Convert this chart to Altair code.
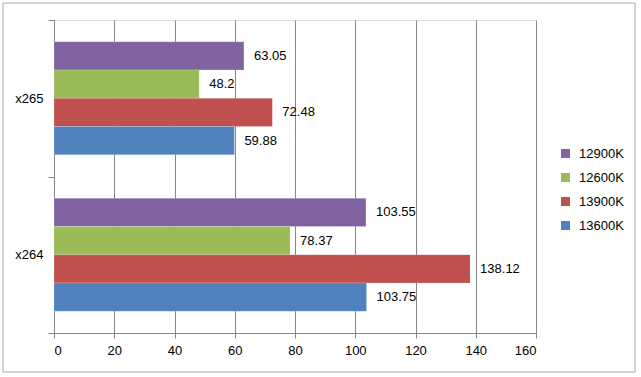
import altair as alt
import pandas as pd

categories = ["x265", "x264"]
series = ["12900K", "12600K", "13900K", "13600K"]
x265_vals = [63.05, 48.2, 72.48, 59.88]
x264_vals = [103.55, 78.37, 138.12, 103.75]
colors = ["#8064A2", "#9BBB59", "#C0504D", "#4F81BD"]
x_ticks = [0, 20, 40, 60, 80, 100, 120, 140, 160]

rows = []
for cat, vals in zip(categories, [x265_vals, x264_vals]):
    for s, v in zip(series, vals):
        rows.append({"codec": cat, "cpu": s, "value": v})
df = pd.DataFrame(rows)

FONT = "Liberation Sans"

base = alt.Chart(df).encode(
    y=alt.Y("codec:N", sort=categories,
            scale=alt.Scale(paddingInner=0, paddingOuter=0),
            axis=alt.Axis(title=None, tickBand="extent", grid=False,
                          domainColor="#868686", tickColor="#868686",
                          tickSize=6, labelPadding=5, labelFontSize=13,
                          labelFont=FONT, labelColor="#000000")),
    yOffset=alt.YOffset("cpu:N", sort=series,
                        scale=alt.Scale(paddingInner=0, paddingOuter=0.77)),
    x=alt.X("value:Q", scale=alt.Scale(domain=[0, 160], nice=False),
            axis=alt.Axis(title=None, values=x_ticks, grid=True,
                          gridColor="#868686", domainColor="#868686",
                          tickColor="#868686", tickSize=5, labelPadding=6,
                          labelFontSize=13, labelFont=FONT,
                          labelColor="#000000")),
)

bars = base.mark_bar(stroke="#ffffff", strokeWidth=0.5, strokeOpacity=0.4).encode(
    color=alt.Color("cpu:N", sort=series,
                    scale=alt.Scale(domain=series, range=colors),
                    legend=alt.Legend(title=None, orient="none",
                                      legendX=505, legendY=127,
                                      symbolType="square", symbolSize=81,
                                      symbolStrokeWidth=0, rowPadding=10,
                                      labelOffset=7, labelFontSize=13,
                                      labelFont=FONT, labelColor="#000000"))
)

labels = base.mark_text(align="left", baseline="middle", dx=10,
                        fontSize=13, font=FONT, color="#000000").encode(
    text=alt.Text("value:Q")
)

border = alt.Chart(pd.DataFrame({"a": [0]})).mark_rect(
    fill=None, stroke="#A6A6A6", strokeWidth=1
).encode(x=alt.value(-51), x2=alt.value(581), y=alt.value(-17), y2=alt.value(352))

chart = alt.layer(bars, labels, border).properties(
    width=482, height=313,
    padding={"left": 54, "top": 20, "right": 105, "bottom": 44},
    autosize=alt.AutoSizeParams(type="none"),
).configure_view(stroke=None).configure(background="#ffffff")

chart.save("out.html", embed_options={"renderer": "svg", "actions": False})
